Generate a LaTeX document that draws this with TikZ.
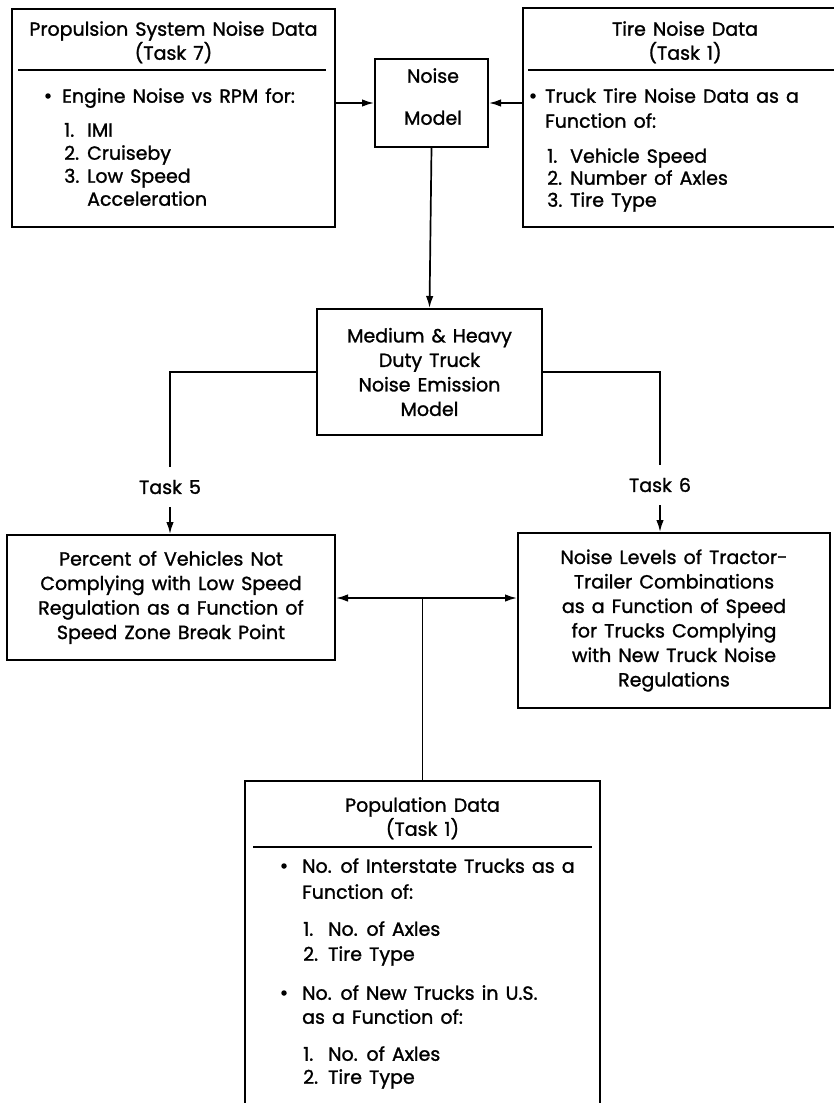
\documentclass[tikz,border=0pt]{standalone}
\usepackage{fontspec}
\setmainfont{Poppins}[FakeBold=1.3, WordSpace=1.4]
\usetikzlibrary{arrows.meta}
\newcommand\dfs{\fontsize{19}{24.5}\selectfont}
\begin{document}
\begin{tikzpicture}[x=1pt,y=-1pt,
  box/.style={draw, line width=2pt, inner sep=0pt},
  conn/.style={line width=1.7pt},
  arr/.style={conn, -{Latex[length=12pt,width=7.5pt]}},
  darr/.style={conn, {Latex[length=12pt,width=7.5pt]}-{Latex[length=12pt,width=7.5pt]}},
  txt/.style={inner sep=0pt, font=\dfs},
  ltxt/.style={txt, anchor=mid west},
  ctxt/.style={txt, anchor=mid},
  dot/.style={circle, fill, inner sep=0pt, minimum size=5.5pt},
  mbox/.style={box, font=\dfs, align=center}]
\useasboundingbox (0,0) rectangle (834,1103);
\fill[white] (0,0) rectangle (834,1103);

% Propulsion box
\node[box, minimum width=323pt, minimum height=218pt] (prop) at (173.5,118) {};
\draw[conn] (18,70) -- (326,70);
\node[ctxt] (p1) at (173.5,33) {Propulsion System Noise Data};
\node[ctxt] (p2) at (173.5,57) {(Task 7)};
\node[dot] (pb) at (48,96) {};
\node[ltxt] (p3) at (62,100) {Engine Noise vs RPM for:};
\node[ltxt] (p4n) at (64,134) {1.};
\node[ltxt] (p4) at (87,134) {IMI};
\node[ltxt] (p5n) at (64,157) {2.};
\node[ltxt] (p5) at (87,157) {Cruiseby};
\node[ltxt] (p6n) at (64,180) {3.};
\node[ltxt] (p6) at (87,180) {Low Speed};
\node[ltxt] (p7) at (87,203) {Acceleration};

% Noise model
\node[box, minimum width=113pt, minimum height=88pt] (nm) at (431.5,103) {};
\node[ctxt] (nm1) at (433,80) {Noise};
\node[ctxt] (nm2) at (433,122) {Model};

% Tire box
\node[box, minimum width=324pt, minimum height=219pt] (tire) at (685,117.5) {};
\draw[conn] (528,70) -- (840,70);
\node[ctxt] (t1) at (685,33) {Tire Noise Data};
\node[ctxt] (t2) at (685,57) {(Task 1)};
\node[dot] (tb) at (533,96) {};
\node[ltxt] (t3) at (545,100) {Truck Tire Noise Data as a};
\node[ltxt] (t4) at (545,125) {Function of:};
\node[ltxt] (t5n) at (547,160) {1.};
\node[ltxt] (t5) at (570,160) {Vehicle Speed};
\node[ltxt] (t6n) at (547,182) {2.};
\node[ltxt] (t6) at (570,182) {Number of Axles};
\node[ltxt] (t7n) at (547,204) {3.};
\node[ltxt] (t7) at (570,204) {Tire Type};

% Medium & heavy
\node[mbox, minimum width=225pt, minimum height=126pt] (med) at (429.5,372)
  {Medium \& Heavy\\Duty Truck\\Noise Emission\\Model};

% Percent box
\node[mbox, minimum width=328pt, minimum height=125pt] (pct) at (171,597.5)
  {Percent of Vehicles Not\\Complying with Low Speed\\Regulation as a Function of\\Speed Zone Break Point};

% Noise levels box
\node[mbox, minimum width=312pt, minimum height=175pt] (nlv) at (674,620.5)
  {Noise Levels of Tractor-\\Trailer Combinations\\as a Function of Speed\\for Trucks Complying\\with New Truck Noise\\Regulations};

% Task labels
\node[txt, minimum height=40pt] (tk5) at (170,487) {Task 5};
\node[txt, minimum height=40pt] (tk6) at (660,485) {Task 6};

% Population box
\node[box, minimum width=355pt, minimum height=348pt] (pop) at (422.5,955) {};
\draw[conn] (253,847) -- (592,847);
\node[ctxt] (q1) at (422.5,809) {Population Data};
\node[ctxt] (q2) at (422.5,833) {(Task 1)};
\node[dot] (qb1) at (284,866) {};
\node[ltxt] (q3) at (302,870) {No. of Interstate Trucks as a};
\node[ltxt] (q4) at (302,896) {Function of:};
\node[ltxt] (q5n) at (303,933) {1.};
\node[ltxt] (q5) at (328,933) {No. of Axles};
\node[ltxt] (q6n) at (303,958) {2.};
\node[ltxt] (q6) at (328,958) {Tire Type};
\node[dot] (qb2) at (284,993) {};
\node[ltxt] (q7) at (302,997) {No. of New Trucks in U.S.};
\node[ltxt] (q8) at (302,1021) {as a Function of:};
\node[ltxt] (q9n) at (303,1058) {1.};
\node[ltxt] (q9) at (328,1058) {No. of Axles};
\node[ltxt] (q10n) at (303,1081) {2.};
\node[ltxt] (q10) at (328,1081) {Tire Type};

% Connectors
\draw[arr] (nm.west -| prop.east) -- (nm.west);
\draw[arr] (nm.east -| tire.west) -- (nm.east);
\draw[arr] (nm.south) -- (med.north);
\draw[conn] (med.west) -| (tk5.north);
\draw[arr] (tk5.south) -- (tk5.south |- pct.north);
\draw[conn] (med.east) -| (tk6.north);
\draw[arr] (tk6.south) -- (tk6.south |- nlv.north);
\coordinate (jn) at (pop.north |- 0,598);
\draw[darr] (jn -| pct.east) -- (jn -| nlv.west);
\draw[conn] (pop.north) -- (jn);
\end{tikzpicture}
\end{document}
